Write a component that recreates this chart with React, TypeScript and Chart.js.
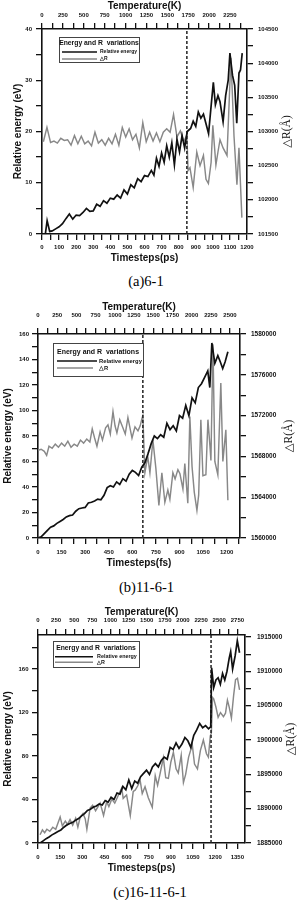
import React, { useEffect, useRef } from "react";
import { Chart, registerables } from "chart.js";

Chart.register(...registerables);

// ---------------- Panel (a) 6-1 ----------------
const timeAE = [20, 30, 45, 60, 80, 100, 120, 140, 160, 180, 200, 220, 240, 260, 280, 300, 320, 340, 360, 380, 400, 420, 440, 460, 480, 500, 520, 540, 560, 580, 600, 620, 640, 655, 670, 685, 700, 715, 730, 745, 760, 775, 790, 805, 820, 835, 850, 870, 885, 900, 915, 930, 945, 960, 975, 990, 1003, 1015, 1030, 1042, 1060, 1075, 1090, 1100, 1115, 1128, 1140, 1153, 1162, 1172];
const energyA = [0.1, 2.6, 0.5, 0.6, 1.0, 1.4, 2.0, 3.0, 3.9, 2.9, 3.7, 3.6, 4.2, 5.0, 4.4, 4.5, 5.8, 5.4, 6.5, 6.0, 7.0, 6.8, 7.6, 7.0, 8.6, 7.8, 9.6, 9.0, 10.8, 10.2, 11.4, 11.2, 12.4, 11.5, 14.8, 13.2, 15.8, 14.0, 17.2, 15.0, 17.8, 13.5, 18.5, 16.0, 19.2, 16.8, 20.0, 20.6, 22.0, 21.0, 23.8, 22.6, 23.4, 21.5, 19.6, 25.0, 29.6, 25.2, 27.0, 25.8, 21.9, 27.0, 30.0, 35.3, 31.0, 29.0, 21.6, 31.4, 32.0, 35.3];
const timeAR = [8, 29, 50, 70, 90, 110, 130, 150, 170, 190, 210, 230, 250, 270, 290, 310, 330, 350, 370, 390, 410, 430, 450, 470, 490, 510, 530, 550, 570, 590, 610, 630, 650, 670, 690, 710, 730, 750, 770, 790, 810, 830, 848, 855, 866, 885, 906, 925, 945, 960, 974, 990, 1000, 1018, 1030, 1042, 1060, 1083, 1106, 1124, 1141, 1153, 1170];
const deltaRA = [102850, 103060, 102840, 102860, 102830, 102900, 102870, 102880, 102800, 102940, 102820, 102930, 102820, 102860, 102790, 102990, 102830, 102880, 102800, 102900, 102820, 102960, 102800, 103060, 102920, 103040, 102880, 102960, 102760, 103130, 102850, 102990, 102860, 102980, 102850, 102990, 103040, 102990, 103250, 102920, 103010, 102850, 102950, 102430, 102470, 102180, 102700, 102500, 102650, 102300, 102240, 102550, 103090, 102510, 102700, 102880, 102760, 102650, 104080, 102930, 102220, 102760, 101740];

// ---------------- Panel (b) 11-6-1 ----------------
const timeBE = [0, 20, 40, 60, 80, 100, 120, 140, 160, 180, 200, 220, 240, 260, 280, 300, 320, 340, 360, 380, 400, 420, 440, 460, 480, 500, 520, 540, 560, 580, 600, 620, 640, 660, 680, 700, 720, 740, 760, 780, 800, 820, 840, 860, 880, 900, 920, 940, 960, 980, 1000, 1020, 1040, 1060, 1080, 1093, 1106, 1125, 1144, 1160, 1175, 1190, 1208];
const energyB = [0, 1.0, 3.5, 6.0, 8.5, 9.5, 11.5, 13.0, 14.5, 16.5, 17.5, 18.0, 21.0, 23.0, 23.5, 24.0, 27.5, 28.0, 29.0, 30.5, 30.0, 33.5, 39.5, 41.0, 40.0, 44.0, 42.0, 46.5, 44.5, 50.0, 53.0, 51.5, 49.0, 55.5, 59.0, 66.0, 74.0, 80.0, 78.0, 81.0, 79.0, 90.0, 85.0, 88.0, 84.0, 96.0, 94.0, 104.0, 96.0, 110.0, 106.0, 118.0, 121.0, 126.0, 131.0, 118.0, 153.0, 137.0, 143.0, 138.0, 133.0, 138.0, 146.0];
const timeBR = [0, 20, 40, 55, 70, 90, 110, 130, 150, 170, 190, 210, 230, 250, 270, 290, 310, 330, 345, 360, 375, 395, 410, 430, 445, 460, 477, 490, 502, 520, 540, 555, 572, 585, 598, 617, 636, 650, 661, 667, 680, 698, 712, 731, 750, 769, 788, 807, 826, 839, 858, 872, 890, 903, 922, 934, 953, 966, 980, 994, 1011, 1022, 1036, 1049, 1068, 1081, 1094, 1100, 1113, 1125, 1144, 1163, 1176, 1195, 1208];
const deltaRB = [1568600, 1568700, 1568500, 1568100, 1569000, 1568800, 1569200, 1568900, 1569300, 1569000, 1569500, 1568900, 1569200, 1569000, 1569600, 1569300, 1569700, 1569400, 1570700, 1569800, 1569000, 1570400, 1569600, 1570800, 1571100, 1570200, 1572400, 1571000, 1570300, 1571600, 1570800, 1570200, 1571800, 1570800, 1569800, 1570900, 1570500, 1571000, 1571700, 1572000, 1566400, 1568000, 1566400, 1569600, 1566800, 1563200, 1566400, 1563500, 1564700, 1563800, 1566400, 1565800, 1566700, 1566300, 1564800, 1567300, 1563400, 1571900, 1567000, 1564500, 1562700, 1564200, 1571600, 1566100, 1566200, 1571600, 1569000, 1567600, 1579000, 1567500, 1566200, 1575200, 1567500, 1570600, 1563700];

// ---------------- Panel (c) 16-11-6-1 ----------------
const timeCE = [15, 35, 55, 75, 95, 115, 135, 155, 175, 195, 215, 235, 255, 275, 295, 315, 335, 355, 375, 395, 415, 435, 455, 475, 495, 515, 535, 555, 575, 595, 615, 635, 655, 675, 695, 715, 735, 755, 775, 795, 815, 835, 855, 875, 895, 915, 935, 955, 975, 995, 1015, 1035, 1055, 1075, 1095, 1115, 1135, 1155, 1170, 1176, 1190, 1205, 1220, 1235, 1250, 1265, 1280, 1295, 1305, 1318, 1335, 1350, 1365];
const energyC = [0, 2, 4, 5.5, 7.5, 9, 10.5, 12, 14.5, 16.5, 18, 19, 21, 22.5, 25, 27, 30, 31, 33, 34, 36, 35, 39, 37.5, 42, 40, 46, 45, 52, 49, 58, 50, 57, 55, 61, 64, 67, 63, 70, 73, 70, 76, 79, 77, 88, 86, 92, 87, 91, 97, 94, 88, 99, 104, 110, 106, 108, 105, 107, 161, 143, 150, 152, 146, 156, 150, 158, 170, 176, 160, 172, 186, 175];
const timeCR = [14, 30, 45, 60, 80, 100, 120, 150, 165, 185, 200, 217, 235, 255, 270, 285, 305, 320, 331, 353, 370, 390, 421, 444, 465, 480, 500, 520, 545, 567, 577, 600, 625, 645, 658, 675, 692, 706, 725, 747, 774, 794, 810, 828, 849, 865, 883, 900, 917, 935, 950, 970, 985, 1000, 1020, 1045, 1060, 1080, 1100, 1120, 1141, 1154, 1167, 1174, 1182, 1190, 1205, 1220, 1236, 1256, 1270, 1283, 1295, 1310, 1325, 1338, 1351, 1365];
const deltaRC = [1886200, 1886900, 1886500, 1887000, 1886700, 1887300, 1887000, 1888800, 1887500, 1888200, 1887700, 1888400, 1887600, 1888600, 1887300, 1888700, 1889300, 1888500, 1887000, 1890100, 1890500, 1889700, 1890800, 1889000, 1891000, 1890300, 1891400, 1890800, 1892000, 1893000, 1891500, 1892000, 1889000, 1892500, 1892700, 1893300, 1894100, 1892200, 1893200, 1891600, 1890200, 1894800, 1893400, 1895200, 1897400, 1894500, 1894400, 1896800, 1898200, 1895800, 1895200, 1897800, 1893800, 1895000, 1897500, 1899300, 1896500, 1895800, 1898500, 1900000, 1898000, 1897500, 1900600, 1901000, 1906200, 1906000, 1904800, 1903300, 1904000, 1903400, 1903900, 1905800, 1904800, 1903200, 1906500, 1908800, 1909000, 1907300];

// transition markers (timestep of the dashed line)
const transitionA = 848;
const transitionB = 667;
const transitionC = 1172;

const SANS = '"Liberation Sans", Arial, Helvetica, sans-serif';
const SERIF = '"Liberation Serif", "Times New Roman", "DejaVu Serif", serif';

type AxisSpec = {
  min: number; max: number; step: number; labelStep: number;
  size: number; pad: number; title?: string; titlePad?: number;
};

type Panel = {
  height: number;
  tE: number[]; E: number[]; tR: number[]; R: number[]; dash: number;
  bottom: AxisSpec; top: AxisSpec; left: AxisSpec; right: AxisSpec;
  rightTitleX: number; tickSize: number; rightTickSize: number;
  legend: any;
};

const decorPlugin = {
  id: "decor",
  afterDraw(chart: any, _args: any, opts: any) {
    const ctx = chart.ctx as CanvasRenderingContext2D;
    const ca = chart.chartArea;
    // right axis title (reads bottom-to-top)
    ctx.save();
    ctx.font = `11.5px ${SERIF}`;
    ctx.fillStyle = "#111";
    ctx.textAlign = "center";
    ctx.textBaseline = "middle";
    ctx.translate(opts.rightTitleX, (ca.top + ca.bottom) / 2);
    ctx.rotate(-Math.PI / 2);
    ctx.fillText("\u25B3R(\u00C5)", 0, 0);
    ctx.restore();
    // legend box
    const lg = opts.legend;
    ctx.save();
    ctx.fillStyle = "#fff";
    ctx.fillRect(lg.x, lg.y, lg.w, lg.h);
    ctx.strokeStyle = "#444";
    ctx.lineWidth = 1;
    ctx.strokeRect(lg.x + 0.5, lg.y + 0.5, lg.w, lg.h);
    ctx.fillStyle = "#111";
    ctx.textAlign = "center";
    ctx.textBaseline = "middle";
    ctx.font = `bold ${lg.titleSize}px ${SANS}`;
    ctx.fillText("Energy and R  variations", lg.x + lg.w / 2, lg.titleY);
    const entries = [
      { y: lg.e1y, x2: lg.x2a, color: "#111", w: 1.6, text: "Relative energy" },
      { y: lg.e2y, x2: lg.x2b, color: "#888", w: 1.4, text: "\u25B3R" },
    ];
    ctx.textAlign = "left";
    ctx.font = `bold ${lg.entrySize}px ${SANS}`;
    for (const e of entries) {
      ctx.beginPath();
      ctx.strokeStyle = e.color;
      ctx.lineWidth = e.w;
      ctx.moveTo(lg.x1, e.y);
      ctx.lineTo(e.x2, e.y);
      ctx.stroke();
      ctx.fillStyle = "#111";
      ctx.fillText(e.text, lg.tx, e.y);
    }
    ctx.restore();
  },
};

function axis(spec: AxisSpec, position: string, horizontal: boolean, fontSize: number) {
  return {
    type: "linear",
    position,
    min: spec.min,
    max: spec.max,
    bounds: "data",
    grid: { drawOnChartArea: false, drawTicks: true, tickLength: 6, color: "#111", lineWidth: 1.3 },
    border: { display: true, color: "#111", width: 1.6 },
    ticks: {
      stepSize: spec.step,
      autoSkip: false,
      maxRotation: 0,
      minRotation: 0,
      includeBounds: false,
      padding: spec.pad,
      color: "#111",
      font: { family: SANS, size: fontSize, weight: "bold" },
      callback: (v: any) => {
        const n = Number(v);
        const r = Math.abs(n / spec.labelStep - Math.round(n / spec.labelStep));
        return r < 1e-6 ? String(Math.round(n)) : "";
      },
    },
    afterBuildTicks: (s: any) => {
      const out: { value: number }[] = [];
      const start = Math.ceil((spec.min - 1e-9) / spec.step);
      for (let k = start; k * spec.step <= spec.max + 1e-9; k++) {
        out.push({ value: Math.round(k * spec.step * 1000) / 1000 });
      }
      s.ticks = out;
    },
    title: {
      display: !!spec.title,
      text: spec.title || "",
      color: "#111",
      font: { family: SANS, size: 10, weight: "bold", lineHeight: 1.2 },
      padding: { top: spec.titlePad || 0, bottom: spec.titlePad || 0 },
    },
    afterFit: (s: any) => {
      if (horizontal) s.height = spec.size;
      else s.width = spec.size;
    },
  };
}

const panels: Panel[] = [
  {
    height: 270,
    tE: timeAE, E: energyA, tR: timeAR, R: deltaRA, dash: transitionA,
    bottom: { min: 0, max: 1200, step: 50, labelStep: 100, size: 36, pad: 4, title: "Timesteps(ps)", titlePad: 6 },
    top: { min: 0, max: 2453, step: 125, labelStep: 250, size: 29, pad: 4, title: "Temperature(K)", titlePad: 0 },
    left: { min: 0, max: 40, step: 5, labelStep: 10, size: 42, pad: 4, title: "Relative energy (eV)", titlePad: 12 },
    right: { min: 101500, max: 104500, step: 250, labelStep: 500, size: 51, pad: 5 },
    rightTitleX: 287, tickSize: 6, rightTickSize: 6,
    legend: { x: 59, y: 37, w: 80, h: 25, titleY: 43.5, titleSize: 6.8, e1y: 52, e2y: 59, x1: 62, x2a: 97, x2b: 97, tx: 100, entrySize: 5 },
  },
  {
    height: 275,
    tE: timeBE, E: energyB, tR: timeBR, R: deltaRB, dash: transitionB,
    bottom: { min: 0, max: 1285, step: 75, labelStep: 150, size: 37, pad: 5, title: "Timesteps(fs)", titlePad: 6 },
    top: { min: 0, max: 2630, step: 125, labelStep: 250, size: 34, pad: 9, title: "Temperature(K)", titlePad: 1 },
    left: { min: 0, max: 160, step: 10, labelStep: 20, size: 38, pad: 3, title: "Relative energy (eV)", titlePad: 2 },
    right: { min: 1560000, max: 1580000, step: 2000, labelStep: 4000, size: 58, pad: 5 },
    rightTitleX: 289, tickSize: 6, rightTickSize: 6.5,
    legend: { x: 53, y: 43, w: 90, h: 33, titleY: 52, titleSize: 7, e1y: 61, e2y: 68, x1: 57, x2a: 97, x2b: 93, tx: 99, entrySize: 5.8 },
  },
  {
    height: 275,
    tE: timeCE, E: energyC, tR: timeCR, R: deltaRC, dash: transitionC,
    bottom: { min: 0, max: 1402, step: 75, labelStep: 150, size: 32, pad: 5, title: "Timesteps(ps)", titlePad: 1 },
    top: { min: 0, max: 2855, step: 125, labelStep: 250, size: 35, pad: 5, title: "Temperature(K)", titlePad: 6 },
    left: { min: 0, max: 191.3, step: 20, labelStep: 40, size: 38, pad: 3.5, title: "Relative energy (eV)", titlePad: 2 },
    right: { min: 1885000, max: 1915291, step: 2500, labelStep: 5000, size: 53, pad: 6 },
    rightTitleX: 291, tickSize: 6, rightTickSize: 6.5,
    legend: { x: 53, y: 41, w: 86, h: 26, titleY: 48.3, titleSize: 6.8, e1y: 56.7, e2y: 62.3, x1: 55, x2a: 93, x2b: 93, tx: 97, entrySize: 5.4 },
  },
];

function buildChart(canvas: HTMLCanvasElement, p: Panel) {
  const energyPts = p.tE.map((x, i) => ({ x, y: p.E[i] }));
  const rPts = p.tR.map((x, i) => ({ x, y: p.R[i] }));
  const config: any = {
    type: "line",
    data: {
      datasets: [
        {
          label: "Relative energy", data: energyPts, xAxisID: "x", yAxisID: "y",
          borderColor: "#111", borderWidth: 1.7, pointRadius: 0, tension: 0, fill: false,
        },
        {
          label: "transition", data: [{ x: p.dash, y: p.left.min }, { x: p.dash, y: p.left.max }],
          xAxisID: "x", yAxisID: "y", borderColor: "#222", borderWidth: 1.5, borderDash: [3, 2],
          pointRadius: 0, fill: false,
        },
        {
          label: "\u25B3R", data: rPts, xAxisID: "x", yAxisID: "y1",
          borderColor: "#888", borderWidth: 1.45, pointRadius: 0, tension: 0, fill: false,
        },
      ],
    },
    options: {
      animation: false,
      responsive: false,
      maintainAspectRatio: false,
      events: [],
      layout: { padding: 0 },
      plugins: {
        legend: { display: false },
        tooltip: { enabled: false },
        decor: { rightTitleX: p.rightTitleX, legend: p.legend },
      },
      scales: {
        x: axis(p.bottom, "bottom", true, p.tickSize),
        x2: axis(p.top, "top", true, p.tickSize),
        y: axis(p.left, "left", false, p.tickSize),
        y1: axis(p.right, "right", false, p.rightTickSize),
      },
    },
    plugins: [decorPlugin],
  };
  return new Chart(canvas, config);
}

const tops = [0, 300, 600];
const captions = [
  { text: "(a)6-1", cx: 146, cy: 281 },
  { text: "(b)11-6-1", cx: 146.5, cy: 587 },
  { text: "(c)16-11-6-1", cx: 150, cy: 892 },
];

export default function App() {
  const r0 = useRef<HTMLCanvasElement>(null);
  const r1 = useRef<HTMLCanvasElement>(null);
  const r2 = useRef<HTMLCanvasElement>(null);
  const refs = [r0, r1, r2];

  useEffect(() => {
    const charts = panels.map((p, i) => buildChart(refs[i].current as HTMLCanvasElement, p));
    return () => charts.forEach((c) => c.destroy());
  }, []);

  return (
    <div style={{ position: "absolute", left: 0, top: 0, width: 298, height: 900, background: "#fff", overflow: "hidden" }}>
      {panels.map((p, i) => (
        <canvas
          key={i}
          ref={refs[i]}
          width={298}
          height={p.height}
          style={{ position: "absolute", left: 0, top: tops[i], width: 298, height: p.height }}
        />
      ))}
      {captions.map((c, i) => (
        <div
          key={"c" + i}
          style={{
            position: "absolute", left: c.cx - 100, top: c.cy - 10, width: 200, height: 20,
            lineHeight: "20px", textAlign: "center", fontFamily: SERIF, fontSize: 14.5, color: "#000",
          }}
        >
          {c.text}
        </div>
      ))}
    </div>
  );
}
